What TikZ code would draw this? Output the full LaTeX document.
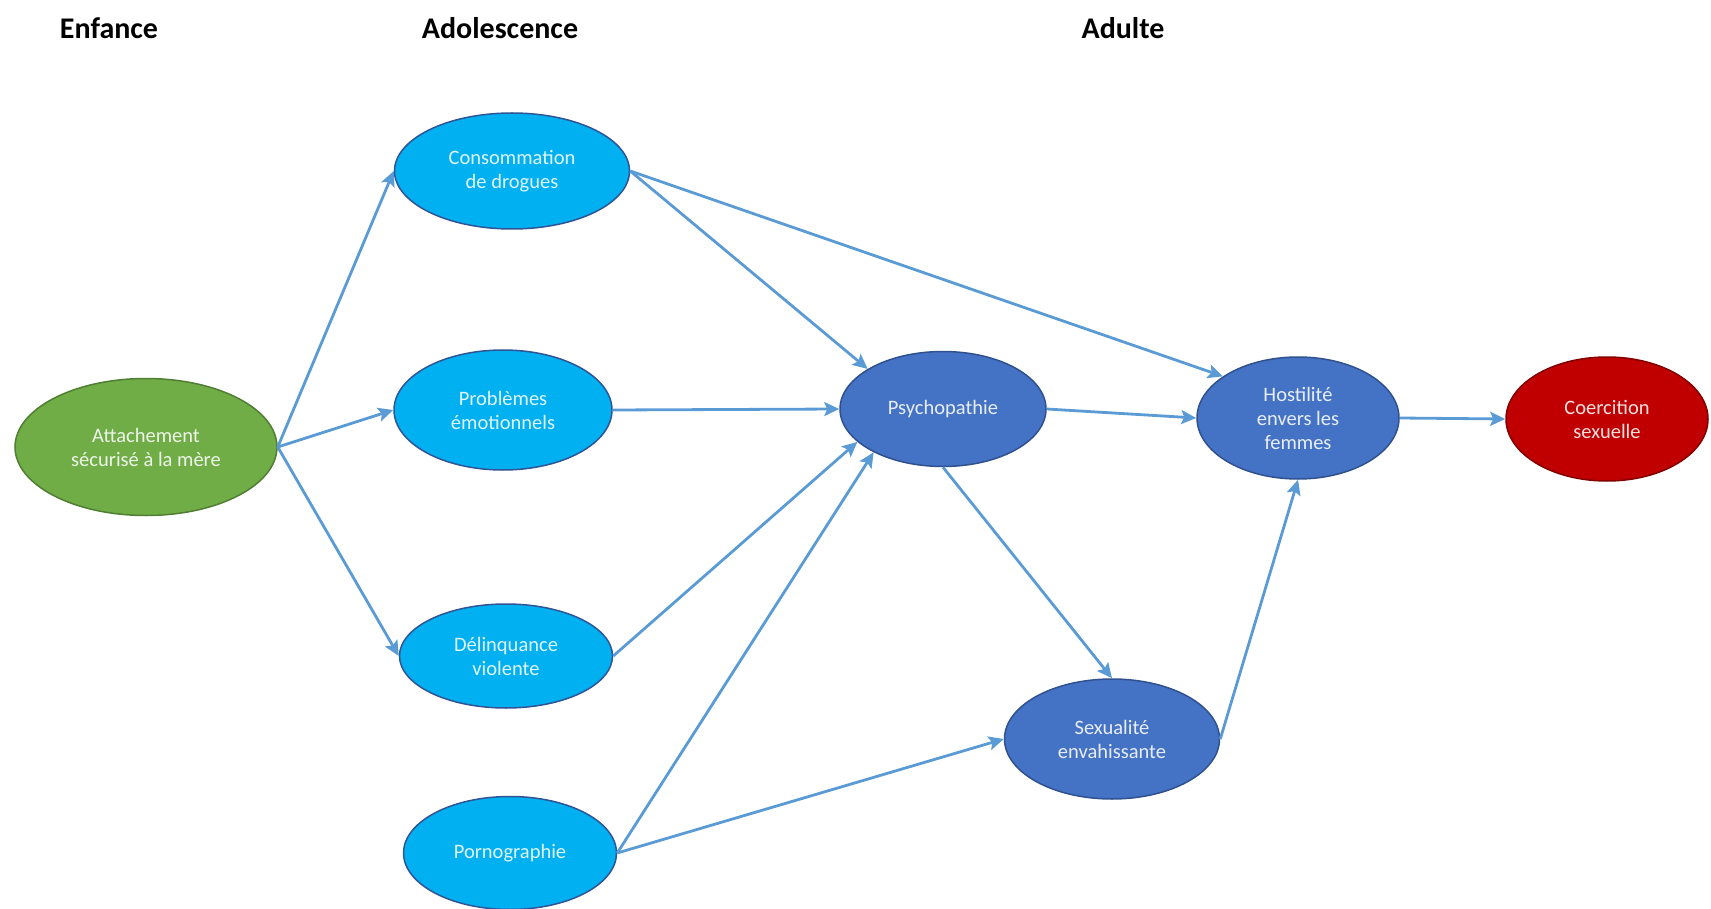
\documentclass[tikz,border=0pt]{standalone}
\usepackage{fontspec}
\setmainfont{Carlito}
\usetikzlibrary{shapes.geometric,arrows.meta}
\definecolor{arrowblue}{RGB}{91,155,213}
\definecolor{greenfill}{RGB}{112,173,71}
\definecolor{greenedge}{RGB}{80,126,50}
\definecolor{cyanfill}{RGB}{0,176,240}
\definecolor{cyanedge}{RGB}{47,85,151}
\definecolor{bluefill}{RGB}{68,114,196}
\definecolor{blueedge}{RGB}{47,82,143}
\definecolor{redfill}{RGB}{192,0,0}
\definecolor{rededge}{RGB}{130,0,0}
\tikzset{
  blob/.style={ellipse, inner sep=0pt, line width=1.5pt, align=center,
    text=white, text opacity=0.88,
    font=\fontsize{20.5}{24}\selectfont},
  greenblob/.style={blob, fill=greenfill, draw=greenedge},
  cyanblob/.style={blob, fill=cyanfill, draw=cyanedge},
  blueblob/.style={blob, fill=bluefill, draw=blueedge},
  redblob/.style={blob, fill=redfill, draw=rededge},
  heading/.style={font=\fontsize{30}{34}\selectfont\bfseries, text=black},
  link/.style={draw=arrowblue, line width=2.8pt,
    -{Stealth[length=15pt,width=14pt,inset=3pt]}}
}
\begin{document}
\begin{tikzpicture}[x=1pt,y=-1pt]
\useasboundingbox (0,0) rectangle (1711,909);

% period headings
\node[heading] (enf) at (109,28) {Enfance};
\node[heading] (ado) at (500,28) {Adolescence};
\node[heading] (adu) at (1123,28) {Adulte};

% childhood
\node[greenblob, minimum width=262pt, minimum height=137pt] (att) at (146,447)
  {Attachement\\sécurisé à la mère};

% adolescence
\node[cyanblob, minimum width=235pt, minimum height=116pt] (cons) at (512,171)
  {Consommation\\de drogues};
\node[cyanblob, minimum width=218pt, minimum height=120pt] (prob) at (503,410)
  {Problèmes\\émotionnels};
\node[cyanblob, minimum width=213pt, minimum height=104pt] (del) at (506,656)
  {Délinquance\\violente};
\node[cyanblob, minimum width=213pt, minimum height=113pt] (porn) at (510,853)
  {Pornographie};

% adulthood
\node[blueblob, minimum width=206pt, minimum height=115pt] (psy) at (943,409)
  {Psychopathie};
\node[blueblob, minimum width=202pt, minimum height=122pt] (host) at (1298,418)
  {Hostilité\\envers les\\femmes};
\node[blueblob, minimum width=215pt, minimum height=120pt] (sex) at (1112,739)
  {Sexualité\\envahissante};
\node[redblob, minimum width=202pt, minimum height=124pt] (coer) at (1607,419)
  {Coercition\\sexuelle};

% paths
\draw[link] (att.east) -- (cons.west);
\draw[link] (att.east) -- (prob.west);
\draw[link] (att.east) -- (del.west);
\draw[link] (cons.east) -- (psy.152);
\draw[link] (cons.east) -- (host.151);
\draw[link] (prob.east) -- (psy.west);
\draw[link] (del.east) -- (psy.201);
\draw[link] (porn.east) -- (psy.212);
\draw[link] (porn.east) -- (sex.west);
\draw[link] (psy.east) -- (host.west);
\draw[link] (psy.south) -- (sex.north);
\draw[link] (sex.east) -- (host.south);
\draw[link] (host.east) -- (coer.west);
\end{tikzpicture}
\end{document}
